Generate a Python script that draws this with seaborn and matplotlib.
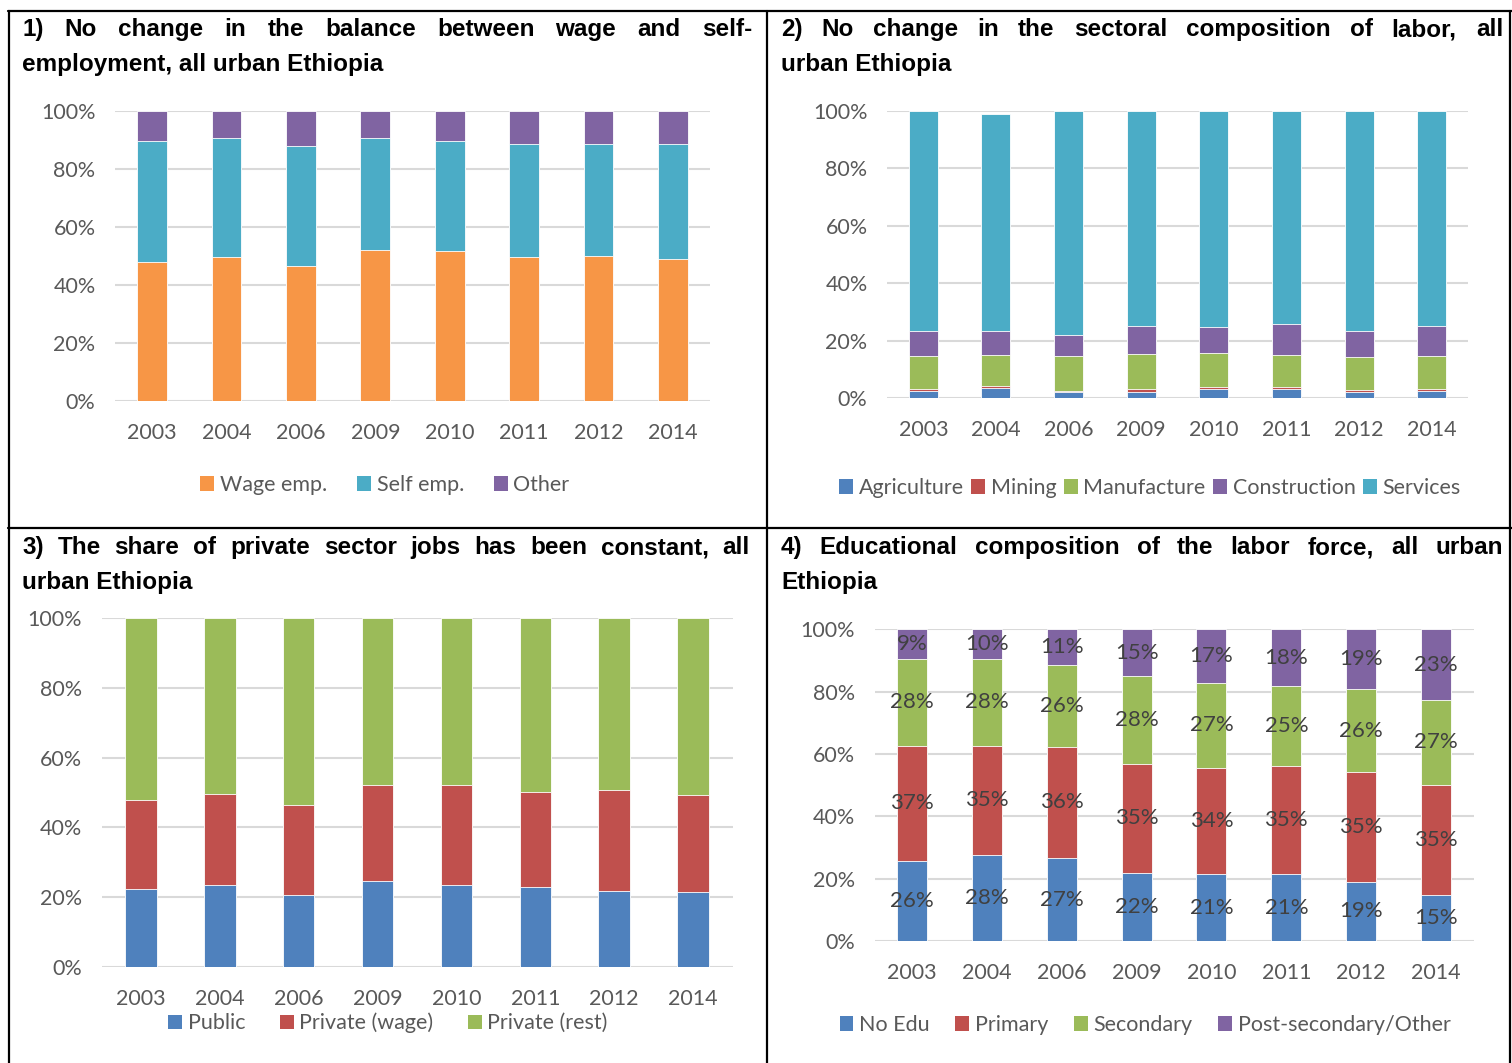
import numpy as np
import pandas as pd
import matplotlib
matplotlib.use("Agg")
import matplotlib.pyplot as plt
import seaborn as sns
from matplotlib.patches import Patch
from matplotlib.lines import Line2D

# data (in %)
years = ["2003", "2004", "2006", "2009", "2010", "2011", "2012", "2014"]

wage_emp = [47.8, 49.7, 46.4, 52.0, 51.6, 49.7, 50.0, 49.0]
self_emp = [42.0, 41.0, 41.5, 38.7, 38.0, 38.8, 38.5, 39.6]
other_emp = [10.2, 9.3, 12.1, 9.3, 10.4, 11.5, 11.5, 11.4]

agriculture = [2.4, 3.6, 2.0, 2.0, 3.1, 3.1, 2.1, 2.3]
mining = [0.8, 0.5, 0.6, 1.0, 0.7, 0.6, 0.6, 0.9]
manufacture = [11.4, 11.0, 12.2, 12.2, 12.0, 11.2, 11.5, 11.6]
construction = [8.7, 8.3, 7.3, 9.9, 8.8, 10.9, 9.2, 10.2]
services = [76.7, 75.6, 77.9, 74.9, 75.4, 74.2, 76.6, 75.0]

public = [22.2, 23.3, 20.7, 24.5, 23.5, 22.9, 21.6, 21.3]
private_wage = [25.6, 26.3, 25.8, 27.7, 28.6, 27.3, 29.2, 28.1]
private_rest = [52.2, 50.4, 53.5, 47.8, 47.9, 49.8, 49.2, 50.6]

no_edu = [25.8, 27.7, 26.6, 21.9, 21.4, 21.4, 19.0, 14.9]
primary = [36.9, 35.0, 35.7, 35.0, 34.1, 34.9, 35.3, 35.3]
secondary = [27.9, 27.7, 26.4, 28.1, 27.3, 25.4, 26.4, 27.0]
post_secondary = [9.4, 9.6, 11.3, 15.0, 17.2, 18.3, 19.3, 22.8]

BLUE, RED, GREEN = "#4F81BD", "#C0504D", "#9BBB59"
PURPLE, TEAL, ORANGE = "#8064A2", "#4BACC6", "#F79646"
GRAY = "#595959"
FS = 15.5

W, H = 1512, 1063
sns.set_theme(style="white")
plt.rcParams["font.family"] = ["Lato", "DejaVu Sans"]
fig = plt.figure(figsize=(W / 100, H / 100), dpi=100)


def box(x, y, w, h):
    return [x / W, 1 - (y + h) / H, w / W, h / H]


def stacked(ax, series, colors, labels=False):
    df = pd.DataFrame(dict(year=years))
    cum = np.zeros(len(years))
    tops = []
    for s in series:
        cum = cum + np.array(s)
        tops.append(cum.copy())
    # draw from the tallest cumulative layer down so lower ones sit on top
    for top, c in reversed(list(zip(tops, colors))):
        df["v"] = top
        sns.barplot(data=df, x="year", y="v", color=c, width=0.4, ax=ax,
                    saturation=1, edgecolor="white", linewidth=0.6)
    if labels:
        base = np.zeros(len(years))
        for s in series:
            for i, v in enumerate(s):
                ax.text(i, base[i] + v / 2, f"{v:.0f}%", ha="center", va="center",
                        fontsize=FS + 0.5, color="#404040")
            base = base + np.array(s)
    ax.set_ylim(0, 100)
    ax.set_xlim(-0.5, len(years) - 0.5)
    ax.set_yticks(range(0, 101, 20))
    ax.set_yticklabels([f"{t}%" for t in range(0, 101, 20)])
    ax.set_xlabel("")
    ax.set_ylabel("")
    for sp in ax.spines.values():
        sp.set_visible(False)
    for t in range(0, 101, 20):
        ax.axhline(t, color="#d9d9d9", lw=1.5, zorder=0)
    ax.tick_params(axis="y", length=0, pad=14, labelsize=FS, labelcolor=GRAY)
    ax.tick_params(axis="x", length=0, pad=16, labelsize=FS, labelcolor=GRAY)


def legend(ax, names, colors, cx, cy, spacing=1.0):
    handles = [Patch(facecolor=c, edgecolor="none") for c in colors]
    ax.legend(handles, names, loc="center", bbox_to_anchor=(cx / W, 1 - cy / H),
              bbox_transform=fig.transFigure, ncol=len(names), frameon=False,
              handlelength=0.65, handleheight=0.65, handletextpad=0.25,
              columnspacing=spacing, fontsize=FS, labelcolor=GRAY)


ax1 = fig.add_axes(box(115, 111, 595, 290))
stacked(ax1, [wage_emp, self_emp, other_emp], [ORANGE, TEAL, PURPLE])
legend(ax1, ["Wage emp.", "Self emp.", "Other"], [ORANGE, TEAL, PURPLE], 385, 485, 1.4)

ax2 = fig.add_axes(box(887, 111, 581, 287))
stacked(ax2, [agriculture, mining, manufacture, construction, services],
        [BLUE, RED, GREEN, PURPLE, TEAL])
legend(ax2, ["Agriculture", "Mining", "Manufacture", "Construction", "Services"],
       [BLUE, RED, GREEN, PURPLE, TEAL], 1150, 488, 0.35)

ax3 = fig.add_axes(box(101.5, 618.2, 631, 348.5))
stacked(ax3, [public, private_wage, private_rest], [BLUE, RED, GREEN])
legend(ax3, ["Public", "Private (wage)", "Private (rest)"], [BLUE, RED, GREEN], 388, 1023, 1.6)

ax4 = fig.add_axes(box(874.5, 629.3, 599, 311.7))
stacked(ax4, [no_edu, primary, secondary, post_secondary], [BLUE, RED, GREEN, PURPLE], labels=True)
legend(ax4, ["No Edu", "Primary", "Secondary", "Post-secondary/Other"],
       [BLUE, RED, GREEN, PURPLE], 1145, 1025, 1.2)

# panel titles, first line justified like the source document
renderer = fig.canvas.get_renderer()
title_kw = dict(fontsize=17.5, fontweight="bold", color="black",
                family=["Liberation Sans", "DejaVu Sans"], va="baseline")


def justified(line, x0, x1, y):
    words = line.split()
    texts = [fig.text(0, 1 - y / H, w, **title_kw) for w in words]
    widths = [t.get_window_extent(renderer).width for t in texts]
    gap = (x1 - x0 - sum(widths)) / (len(words) - 1)
    x = x0
    for t, w in zip(texts, widths):
        t.set_x(x / W)
        x += w + gap


titles = [
    ("1) No change in the balance between wage and self-", "employment, all urban Ethiopia", 22, 752, 36),
    ("2) No change in the sectoral composition of labor, all", "urban Ethiopia", 781, 1503, 36),
    ("3) The share of private sector jobs has been constant, all", "urban Ethiopia", 22, 750, 554),
    ("4) Educational composition of the labor force, all urban", "Ethiopia", 781, 1503, 554),
]
for l1, l2, x0, x1, y in titles:
    justified(l1, x0, x1, y)
    fig.text(x0 / W, 1 - (y + 35) / H, l2, **title_kw)


# table borders
def hline(y, x0, x1):
    fig.add_artist(Line2D([x0 / W, x1 / W], [1 - y / H, 1 - y / H], color="black", lw=1.6))


def vline(x, y0, y1):
    fig.add_artist(Line2D([x / W, x / W], [1 - y0 / H, 1 - y1 / H], color="black", lw=1.6))


hline(11, 8, 1512)
hline(528, 8, 1512)
vline(9, 11, 1063)
vline(767, 11, 1063)
vline(1510, 11, 1063)

fig.savefig("out.png", dpi=100)
